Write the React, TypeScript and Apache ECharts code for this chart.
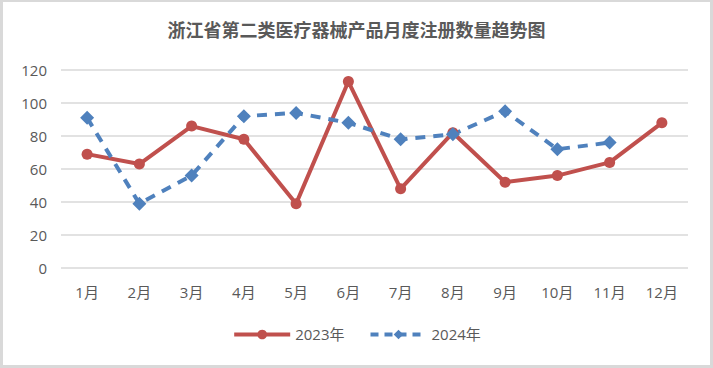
import React, { useEffect, useRef } from "react";
import * as echarts from "echarts";

const months = ["1月", "2月", "3月", "4月", "5月", "6月", "7月", "8月", "9月", "10月", "11月", "12月"];
const values2023 = [69, 63, 86, 78, 39, 113, 48, 82, 52, 56, 64, 88];
const values2024 = [91, 39, 56, 92, 94, 88, 78, 81, 95, 72, 76];
const yTicks = { min: 0, max: 120, interval: 20 };

export default function App() {
  const ref = useRef<HTMLDivElement>(null);
  useEffect(() => {
    document.body.style.margin = "0";
    const chart = echarts.init(ref.current!, null, { renderer: "svg" });
    const labelFont = "'Open Sans', 'Noto Sans CJK SC', sans-serif";
    chart.setOption({
      animation: false,
      backgroundColor: "#ffffff",
      title: {
        text: "浙江省第二类医疗器械产品月度注册数量趋势图",
        left: "center",
        top: 13,
        textStyle: {
          fontFamily: "'Noto Sans CJK SC', sans-serif",
          fontSize: 18,
          fontWeight: "bold",
          color: "#595959",
        },
      },
      grid: { left: 58, right: 22, top: 68, bottom: 97 },
      xAxis: {
        type: "category",
        data: months,
        boundaryGap: true,
        axisLine: { show: false },
        axisTick: { show: false },
        axisLabel: { color: "#595959", fontSize: 15, fontFamily: labelFont, margin: 16 },
      },
      yAxis: {
        type: "value",
        min: yTicks.min,
        max: yTicks.max,
        interval: yTicks.interval,
        axisLine: { show: false },
        axisTick: { show: false },
        axisLabel: { color: "#595959", fontSize: 15, fontFamily: labelFont, margin: 14 },
        splitLine: { lineStyle: { color: "#d9d9d9", width: 1.5 } },
      },
      legend: {
        bottom: 18,
        left: "center",
        itemWidth: 56,
        itemHeight: 12,
        itemGap: 24,
        textStyle: { color: "#595959", fontSize: 15, fontFamily: labelFont },
        data: [
          { name: "2023年", lineStyle: { width: 4 } },
          { name: "2024年", lineStyle: { width: 4, type: [8, 6] } },
        ],
      },
      series: [
        {
          name: "2023年",
          type: "line",
          data: values2023,
          symbol: "circle",
          symbolSize: 11,
          lineStyle: { color: "#C0504D", width: 4 },
          itemStyle: { color: "#C0504D" },
        },
        {
          name: "2024年",
          type: "line",
          data: values2024,
          symbol: "diamond",
          symbolSize: 14,
          lineStyle: { color: "#4F81BD", width: 4, type: [10, 8] },
          itemStyle: { color: "#4F81BD" },
        },
      ],
    });
    return () => chart.dispose();
  }, []);
  return (
    <div style={{ position: "absolute", left: 0, top: 0, width: 713, height: 368, background: "#d9d9d9" }}>
      <div ref={ref} style={{ position: "absolute", left: 3, top: 2, width: 707, height: 363 }} />
    </div>
  );
}
